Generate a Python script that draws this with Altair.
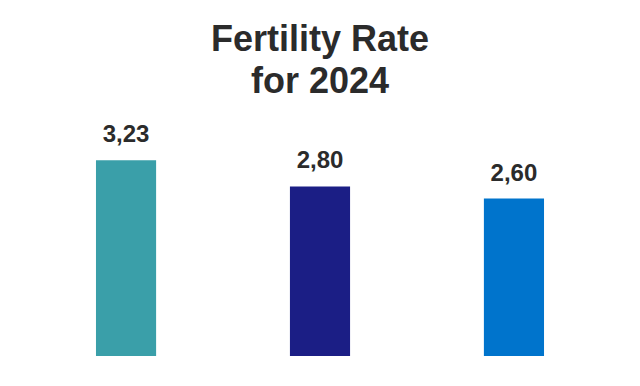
import altair as alt
import pandas as pd

categories = ["Series A", "Series B", "Series C"]
values = [3.23, 2.80, 2.60]
colors = ["#3a9fa9", "#1b1e85", "#0074cc"]

df = pd.DataFrame({"category": categories, "value": values})

x = alt.X("category:N", axis=None, sort=categories,
          scale=alt.Scale(paddingInner=0.69, paddingOuter=0.4536))
y = alt.Y("value:Q", axis=None, scale=alt.Scale(domain=[0, 3.5], nice=False, zero=True))

bars = alt.Chart(df).mark_bar().encode(
    x=x, y=y,
    color=alt.Color("category:N", scale=alt.Scale(domain=categories, range=colors), legend=None),
)

labels = alt.Chart(df).transform_calculate(
    label="replace(format(datum.value, '.2f'), '.', ',')"
).mark_text(
    font="Liberation Sans", fontWeight="bold", fontSize=24, color="#2b2b2b",
    baseline="alphabetic", dy=-18
).encode(x=x, y=y, text="label:N")

chart = (bars + labels).properties(
    width=624, height=212,
    autosize=alt.AutoSizeParams(type="none"),
    padding={"left": 0, "right": 0, "top": 136, "bottom": 22},
    background="white",
    title=alt.TitleParams(
        text=["Fertility Rate", "for 2024"],
        font="Liberation Sans", fontWeight="bold", fontSize=36, lineHeight=42,
        color="#2b2b2b", anchor="middle", frame="group", offset=22,
    ),
).configure_view(stroke=None)

chart.save("out.html", embed_options={"renderer": "svg", "actions": False})
